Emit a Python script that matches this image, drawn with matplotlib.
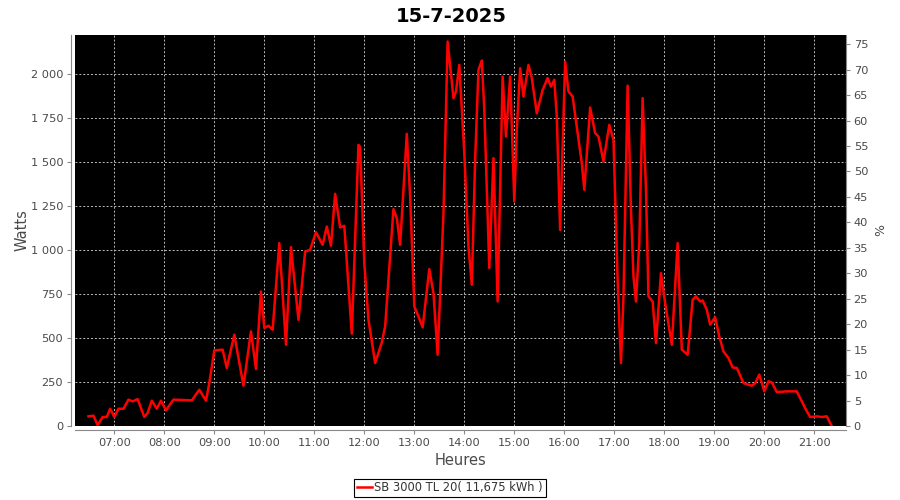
import matplotlib
matplotlib.use('Agg')
import matplotlib.pyplot as plt
from matplotlib.ticker import FuncFormatter, MultipleLocator

# readings of the day (time, watts)
times = ["06:29", "06:35", "06:40", "06:46", "06:51", "06:55", "07:00", "07:05", "07:11", "07:17",
         "07:22", "07:28", "07:36", "07:40", "07:45", "07:51", "07:56", "08:02", "08:11", "08:33",
         "08:42", "08:50", "08:54", "09:00", "09:10", "09:15", "09:24", "09:35", "09:44", "09:50",
         "09:56", "10:00", "10:05", "10:10", "10:18", "10:26", "10:32", "10:41", "10:49", "10:55",
         "11:02", "11:10", "11:15", "11:20", "11:25", "11:31", "11:36", "11:45", "11:53", "11:55",
         "12:00", "12:05", "12:13", "12:21", "12:25", "12:35", "12:39", "12:43", "12:51", "12:55",
         "13:00", "13:05", "13:10", "13:18", "13:23", "13:28", "13:35", "13:40", "13:47", "13:50",
         "13:54", "14:00", "14:05", "14:09", "14:13", "14:17", "14:21", "14:24", "14:30", "14:35",
         "14:40", "14:46", "14:50", "14:55", "15:00", "15:03", "15:07", "15:11", "15:17", "15:21",
         "15:27", "15:34", "15:40", "15:44", "15:48", "15:51", "15:55", "16:01", "16:05", "16:10",
         "16:16", "16:21", "16:24", "16:31", "16:37", "16:41", "16:47", "16:54", "16:59", "17:04",
         "17:08", "17:11", "17:16", "17:20", "17:23", "17:26", "17:30", "17:34", "17:38", "17:41",
         "17:46", "17:50", "17:56", "18:01", "18:09", "18:16", "18:21", "18:28", "18:34", "18:38",
         "18:43", "18:46", "18:51", "18:55", "19:01", "19:06", "19:11", "19:17", "19:22", "19:27",
         "19:35", "19:45", "19:49", "19:54", "20:00", "20:05", "20:09", "20:15", "20:27", "20:39",
         "20:45", "20:50", "20:55", "21:03", "21:09", "21:15", "21:19", "21:21"]
watts = [55, 59, 5, 51, 51, 98, 51, 98, 98, 150,
         140, 153, 51, 74, 144, 98, 144, 89, 150, 146,
         206, 144, 244, 430, 434, 330, 519, 229, 538, 324,
         765, 557, 570, 547, 1040, 462, 1017, 604, 992, 1002,
         1102, 1030, 1134, 1025, 1320, 1129, 1138, 525, 1598, 1589,
         926, 604, 358, 475, 566, 1233, 1182, 1030, 1661, 1305,
         680, 623, 561, 892, 756, 405, 1210, 2186, 1864, 1902,
         2053, 1551, 1021, 803, 1513, 2025, 2078, 1797, 898, 1523,
         708, 1987, 1646, 1987, 1277, 1684, 2034, 1873, 2053, 1978,
         1778, 1911, 1978, 1930, 1968, 1760, 1115, 2072, 1902, 1873,
         1665, 1494, 1343, 1811, 1665, 1646, 1504, 1712, 1627, 831,
         358, 737, 1935, 1229, 850, 708, 1040, 1864, 1343, 737,
         708, 472, 869, 699, 462, 1040, 434, 405, 718, 737,
         708, 714, 661, 576, 619, 509, 424, 386, 333, 330,
         244, 229, 244, 292, 197, 254, 248, 193, 197, 197,
         140, 93, 51, 55, 51, 55, 17, 0]

title = "15-7-2025"
legend_label = "SB 3000 TL 20( 11,675 kWh )"
hour_ticks = list(range(7, 22))

hours = [int(t[:2]) + int(t[3:]) / 60 for t in times]

grey = '#4a4a4a'
fig = plt.figure(figsize=(9, 5), dpi=100)
ax = fig.add_axes([75 / 900, 74 / 500, (846 - 75) / 900, (426 - 35) / 500])
ax.set_facecolor('black')

line, = ax.plot(hours, watts, color='#ff0000', lw=1.8, label=legend_label)

ax.set_xlim(6.214, 21.634)
ax.set_ylim(0, 2223)
ax.set_xticks(hour_ticks)
ax.set_xticklabels(["%02d:00" % h for h in hour_ticks])
ax.yaxis.set_major_locator(MultipleLocator(250))
ax.yaxis.set_major_formatter(FuncFormatter(lambda v, p: "{:,}".format(int(v)).replace(",", " ")))
ax.grid(True, color='#bbbbbb', ls=(0, (2, 2)), lw=0.7)

for s in ['top', 'right']:
    ax.spines[s].set_visible(False)
for s in ['left', 'bottom']:
    ax.spines[s].set_position(('outward', 3))
    ax.spines[s].set_color('#888888')
ax.tick_params(colors='#888888', labelcolor=grey, labelsize=8.2, length=3, width=0.8, pad=2.5)

ax.set_xlabel("Heures", fontsize=10.5, color=grey, labelpad=4)
ax.set_ylabel("Watts", fontsize=10.5, color=grey, labelpad=1)

ax2 = ax.twinx()
ax2.set_ylim(0, 76.8)
ax2.yaxis.set_major_locator(MultipleLocator(5))
for s in ['top', 'left', 'bottom']:
    ax2.spines[s].set_visible(False)
ax2.spines['right'].set_color('#888888')
ax2.tick_params(colors='#888888', labelcolor=grey, labelsize=8.2, length=3, width=0.8, pad=2.5)
ax2.set_ylabel("%", fontsize=9, color=grey, rotation=-90, labelpad=11)

fig.suptitle(title, fontsize=14, fontweight='bold', x=0.501, y=0.985)

leg = fig.legend(handles=[line], loc='center', bbox_to_anchor=(0.5, 0.024), fontsize=8.3,
                 fancybox=False, edgecolor='black', framealpha=1, handlelength=1.3,
                 handletextpad=0.2, borderpad=0.25)
leg.get_frame().set_linewidth(0.8)
for t in leg.get_texts():
    t.set_color('#333333')

fig.savefig("out.png", dpi=100)
